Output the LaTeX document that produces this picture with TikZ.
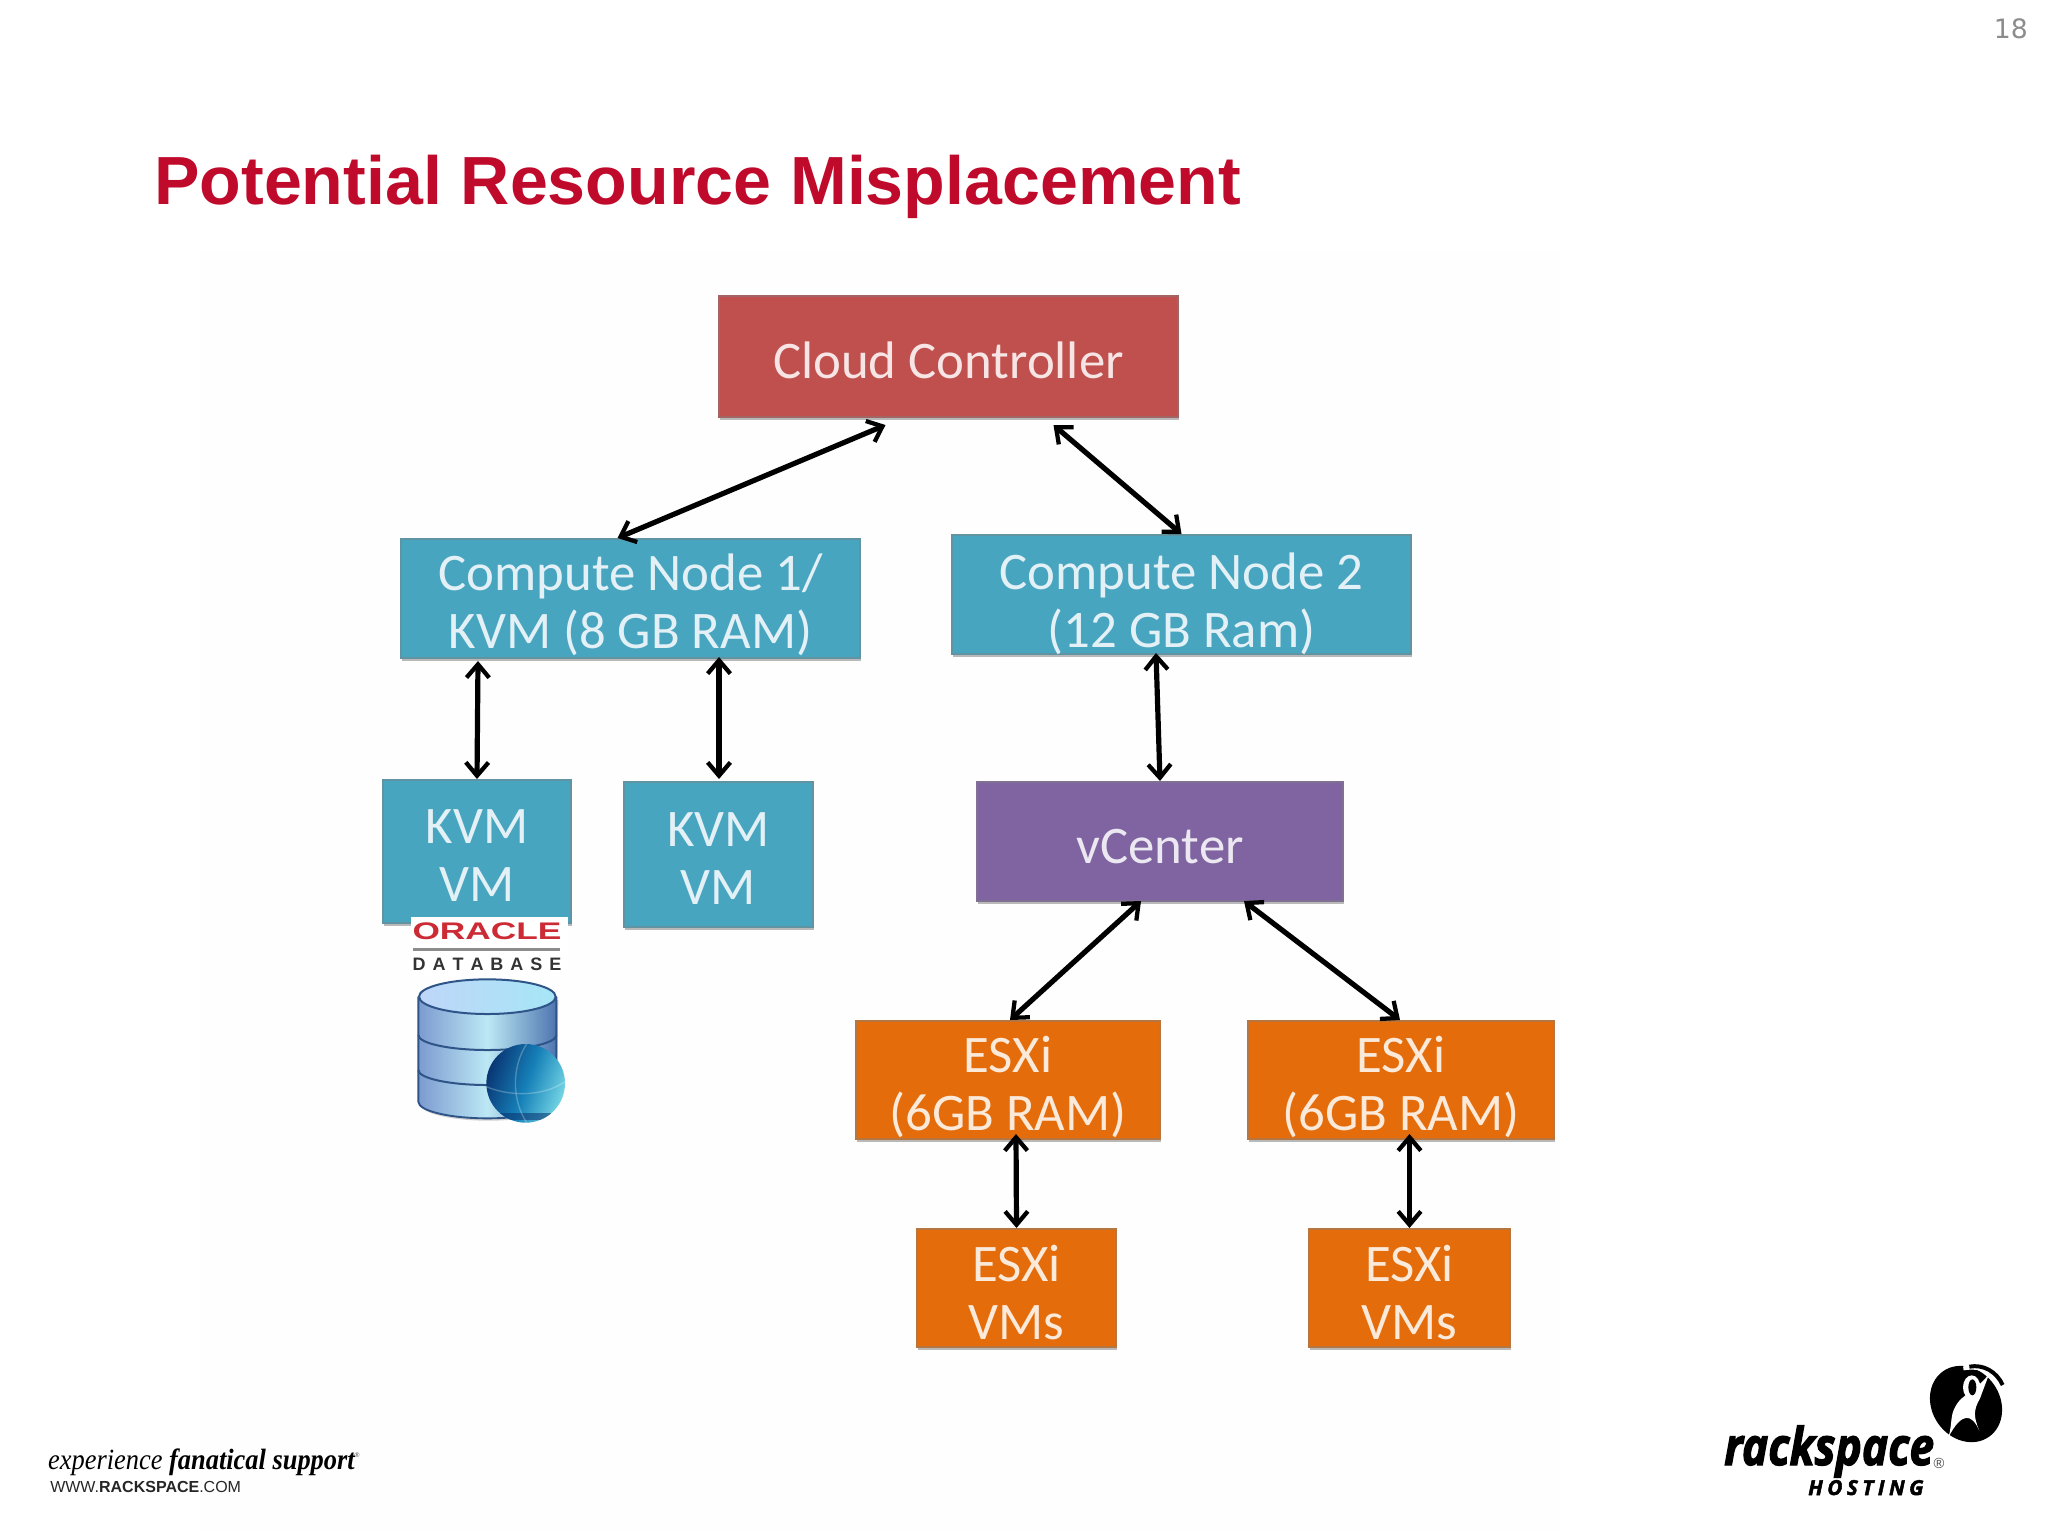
\documentclass[tikz,border=0pt]{standalone}
\usepackage{fontspec}
\setmainfont{Carlito}
\newfontfamily\arialf{Liberation Sans}
\newfontfamily\serf{Liberation Serif}
\newfontfamily\dejaf{DejaVu Sans}
\newfontfamily\logof[FakeBold=2.5]{Open Sans}
\usetikzlibrary{arrows.meta,calc,shadows}
\definecolor{titlered}{HTML}{C00A2C}
\definecolor{oraclered}{HTML}{CC2B35}
\definecolor{boxred}{HTML}{C0504D}
\definecolor{boxblue}{HTML}{48A5C0}
\definecolor{boxpurple}{HTML}{8064A2}
\definecolor{boxorange}{HTML}{E46C0A}
\definecolor{bgtint}{HTML}{FEFEFE}
\definecolor{dbtop}{HTML}{BFD6F8}
\definecolor{dbtopr}{HTML}{A6E6F6}
\definecolor{dbl}{HTML}{7C9BD0}
\definecolor{dbm}{HTML}{BCE8F5}
\definecolor{dbr}{HTML}{4E75B0}
\definecolor{dbedge}{HTML}{2E5488}
\definecolor{gla}{HTML}{08306E}
\definecolor{glb}{HTML}{1680B8}
\definecolor{glc}{HTML}{7FE0EA}
\tikzset{
  dbox/.style={draw=#1!55!gray,line width=1.5pt,fill=#1,inner sep=0pt,align=center,text=#1!15!white,
    font=\fontsize{39.6}{43.5}\selectfont,text height=33pt,
    drop shadow={shadow xshift=0.5pt,shadow yshift=-2.6pt,fill=black!45,opacity=.6}},
  twoline/.style={text height=#1},
  twoline/.default=81pt,
  link/.style={draw=black,line width=3.9pt,{Straight Barb[length=10pt,width=17pt,line width=3.2pt]}-{Straight Barb[length=10pt,width=17pt,line width=3.2pt]}},
}
\begin{document}
\begin{tikzpicture}[x=0.75pt,y=-0.75pt]
\useasboundingbox (0,0) rectangle (2048,1536);
\fill[white] (0,0) rectangle (2048,1536);
\fill[bgtint] (200,250) rectangle (1560,1530);
\node[anchor=east,inner sep=0pt,text=black!45,font=\dejaf\fontsize{20}{20}\selectfont] (pageno) at (2028,29) {18};
\node[anchor=base west,inner sep=0pt,text=titlered,font=\arialf\bfseries\fontsize{51.1}{50}\selectfont] (title) at (154,204) {Potential Resource Misplacement};

\node[dbox=boxred,minimum width=344.25pt,minimum height=90.75pt] (cloud) at (948.5,356.5) {Cloud Controller};
\node[dbox=boxblue,twoline,minimum width=344.25pt,minimum height=89.25pt] (cn1) at (630.5,598.5) {Compute Node 1/\\KVM (8 GB RAM)};
\node[dbox=boxblue,twoline=84.5pt,text depth=4.5pt,minimum width=344.25pt,minimum height=89.25pt] (cn2) at (1181.5,594.5) {Compute Node 2\\(12 GB Ram)};
\node[dbox=boxblue,twoline=75pt,minimum width=141pt,minimum height=107.25pt] (kvm1) at (477,851.5) {KVM\\VM};
\node[dbox=boxblue,twoline=75pt,minimum width=141.75pt,minimum height=108.75pt] (kvm2) at (718.5,854.5) {KVM\\VM};
\node[dbox=boxpurple,minimum width=274.5pt,minimum height=89.25pt] (vc) at (1160,841.5) {vCenter};
\node[dbox=boxorange,twoline,minimum width=228pt,minimum height=88.5pt] (esxa) at (1008,1080) {ESXi\\(6GB RAM)};
\node[dbox=boxorange,twoline,minimum width=229.5pt,minimum height=88.5pt] (esxb) at (1401,1080) {ESXi\\(6GB RAM)};
\node[dbox=boxorange,twoline=77pt,minimum width=149.25pt,minimum height=88.5pt] (vma) at (1016.5,1288) {ESXi\\VMs};
\node[dbox=boxorange,twoline=77pt,minimum width=150.75pt,minimum height=88.5pt] (vmb) at (1409.5,1288) {ESXi\\VMs};

\draw[link] ([shift={(-63,7)}]cloud.south) -- ([shift={(-13,0)}]cn1.north);
\draw[link] ([shift={(105,7)}]cloud.south) -- (cn2.north);
\draw[link] ([shift={(-152.5,2)}]cn1.south) -- (kvm1.north);
\draw[link] ([shift={(88.5,-2)}]cn1.south) -- ([shift={(.5,-2)}]kvm2.north);
\draw[link] ([shift={(-25.5,-2)}]cn2.south) -- (vc.north);
\draw[link] ([shift={(-19,-1)}]vc.south) -- ([shift={(2,0)}]esxa.north);
\draw[link] ([shift={(84,-1)}]vc.south) -- ([shift={(-1,0)}]esxb.north);
\draw[link] ([shift={(8,-6)}]esxa.south) -- (vma.north);
\draw[link] ([shift={(8.5,-6)}]esxb.south) -- (vmb.north);

% Oracle database logo
\fill[white] (411,917) rectangle (568,977);
\node[inner sep=0pt,text=oraclered,xscale=1.47,font=\arialf\bfseries\fontsize{18}{18}\selectfont] (oracle) at (487,931) {ORACLE};
\fill[black!45] (413,948) rectangle (560,950.5);
\node[inner sep=0pt,text=black!80,font=\arialf\bfseries\fontsize{13.5}{13.5}\selectfont] (dbtext) at (487,964) {D\hspace{5.2pt}A\hspace{5.2pt}T\hspace{5.2pt}A\hspace{5.2pt}B\hspace{5.2pt}A\hspace{5.2pt}S\hspace{5.2pt}E};
\begin{scope}[shift={(370,900)},x=0.25pt,y=-0.25pt]
  \fill[black!30,opacity=.6] (150,300) -- (150,612) arc[x radius=205,y radius=50,start angle=180,end angle=0] -- (565,300) -- cycle;
  \shade[left color=dbl,right color=dbr,middle color=dbm] (145,290) -- (145,605) arc[x radius=207,y radius=50,start angle=180,end angle=0] -- (559,290) arc[x radius=207,y radius=50,start angle=0,end angle=180] -- cycle;
  \draw[line width=1.4pt,dbedge] (145,290) -- (145,605) arc[x radius=207,y radius=50,start angle=180,end angle=0] -- (559,290);
  \draw[line width=1.5pt,dbedge] (145,405) arc[x radius=207,y radius=45,start angle=180,end angle=0];
  \draw[line width=1.5pt,dbedge] (145,510) arc[x radius=207,y radius=45,start angle=180,end angle=0];
  \shade[left color=dbtop,right color=dbtopr,draw=dbedge,line width=1.5pt] (352,290) ellipse[x radius=205,y radius=52];
  \begin{scope}
    \clip (467,550) circle[radius=118];
    \shade[left color=gla,right color=glc,middle color=glb,shading angle=70] (340,420) rectangle (600,680);
    \fill[gla,opacity=.55] (345,660) rectangle (600,640);
    \draw[white,opacity=.25,line width=1pt] (349,560) .. controls (420,590) and (520,590) .. (585,545);
    \draw[white,opacity=.25,line width=1pt] (470,432) .. controls (425,500) and (425,600) .. (470,668);
  \end{scope}
\end{scope}

% Rackspace logo
\begin{scope}[shift={(1700,1350)},x=0.25pt,y=-0.25pt]
  \fill[black,rotate around={35:(798,162)}] (798,162) ellipse[x radius=102,y radius=120];
  \draw[line width=3pt,white] (790,55) .. controls (850,45) and (890,70) .. (912,120);
  \draw[line width=3pt,black] (808,50) .. controls (850,42) and (890,65) .. (908,105);
  \fill[white] (745,262) .. controls (760,215) and (745,190) .. (780,150)
     .. controls (800,130) and (840,110) .. (868,70) -- (840,145)
     .. controls (820,180) and (820,200) .. (838,242)
     .. controls (815,190) and (785,185) .. cycle;
  \fill[white] (815,112) ellipse[x radius=26,y radius=36];
  \fill[black] (817,112) ellipse[x radius=12,y radius=24];
\end{scope}
\node[anchor=base west,inner sep=0pt,font=\logof\bfseries\itshape\fontsize{39}{39}\selectfont,xscale=.85] (rack) at (1724,1465) {rackspace};
\node[anchor=center,inner sep=0pt,font=\arialf\fontsize{11}{11}\selectfont,text=black!70] (reg) at (1939,1463) {®};
\node[anchor=base west,inner sep=0pt,font=\logof\bfseries\itshape\fontsize{15.5}{15.5}\selectfont] (host) at (1808,1495) {H\hspace{3.4pt}O\hspace{3.4pt}S\hspace{3.4pt}T\hspace{3.4pt}I\hspace{3.4pt}N\hspace{3.4pt}G};

% Footer
\node[anchor=base west,inner sep=0pt,font=\serf\fontsize{22}{22}\selectfont,xscale=.9] (exper) at (48,1469) {\textit{experience} \textbf{\textit{fanatical support}}};
\node[anchor=center,inner sep=0pt,font=\arialf\fontsize{5}{5}\selectfont,text=black!70] (reg2) at (357,1455) {®};
\node[anchor=base west,inner sep=0pt,font=\arialf\fontsize{12}{12}\selectfont,text=black!85] (www) at (50,1492) {WWW.\textbf{RACKSPACE}.COM};
\end{tikzpicture}
\end{document}
